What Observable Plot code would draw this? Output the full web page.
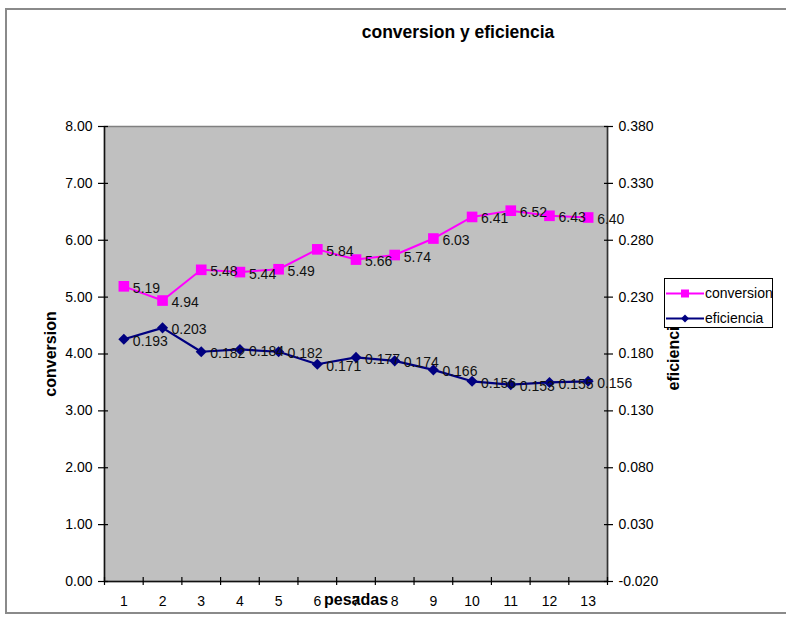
<!DOCTYPE html>
<html>
<head>
<meta charset="utf-8">
<script src="https://cdn.jsdelivr.net/npm/d3@7"></script>
<script src="https://cdn.jsdelivr.net/npm/@observablehq/plot@0.6"></script>
<style>
  html, body { margin: 0; padding: 0; background: #fff; overflow: hidden; }
  #wrap { position: relative; width: 786px; height: 618px; font-family: "Liberation Sans", Arial, sans-serif; }
  #border { position: absolute; left: 5px; top: 8px; width: 820px; height: 606px; border: 2px solid #8a8a8a; box-sizing: border-box; }
  #title { position: absolute; left: 0; width: 916px; top: 22px; text-align: center; font-weight: bold; font-size: 17.5px; color: #000; }
  #chart { position: absolute; left: 0; top: 0; }
  #legend { position: absolute; left: 664px; top: 278px; width: 109px; height: 50px; box-sizing: border-box; border: 1px solid #000; background: #fff; font-size: 14px; }
  .item { position: absolute; left: 1px; height: 18px; display: flex; align-items: center; }
  .item svg { display: block; }
  .item span { margin-left: 1px; }
</style>
</head>
<body>
<div id="wrap">
  <div id="border"></div>
  <div id="chart"></div>
  <div id="title">conversion y eficiencia</div>
  <div id="legend"></div>
</div>
<script>
// ---- data ----
const pesadas = [1, 2, 3, 4, 5, 6, 7, 8, 9, 10, 11, 12, 13];
const conversion = [5.19, 4.94, 5.48, 5.44, 5.49, 5.84, 5.66, 5.74, 6.03, 6.41, 6.52, 6.43, 6.40];
const eficiencia = [0.193, 0.203, 0.182, 0.184, 0.182, 0.171, 0.177, 0.174, 0.166, 0.156, 0.153, 0.155, 0.156];
const convTicks = [0, 1, 2, 3, 4, 5, 6, 7, 8];
const effTicks = [-0.02, 0.03, 0.08, 0.13, 0.18, 0.23, 0.28, 0.33, 0.38];
const seriesNames = ["conversion", "eficiencia"];
const colors = ["#ff00ff", "#000080"];

// secondary axis domain [-0.02, 0.38] mapped onto primary [0, 8]
const effMin = -0.02, effMax = 0.38, convMin = 0, convMax = 8;
const effToConv = e => convMin + (e - effMin) / (effMax - effMin) * (convMax - convMin);
const convToEff = c => effMin + (c - convMin) / (convMax - convMin) * (effMax - effMin);

const rows = pesadas.map((k, i) => ({k, conv: conversion[i], eff: eficiencia[i], effY: effToConv(eficiencia[i])}));
const edges = [...pesadas.map(k => k - 0.5), pesadas[pesadas.length - 1] + 0.5];

const plot = Plot.plot({
  width: 786,
  height: 618,
  marginLeft: 104,
  marginRight: 179,
  marginTop: 126,
  marginBottom: 37,
  style: {fontFamily: "'Liberation Sans', Arial, sans-serif", fontSize: "14px", background: "transparent", color: "#000"},
  x: {type: "linear", domain: [0.5, 13.5], axis: null},
  y: {domain: [convMin, convMax], axis: null},
  marks: [
    Plot.frame({fill: "#c0c0c0", stroke: "#808080", strokeWidth: 1.5}),
    Plot.ruleX([0.5], {stroke: "#111", strokeWidth: 1.5}),
    Plot.ruleX([13.5], {stroke: "#333", strokeWidth: 1.5}),
    Plot.ruleY([0], {stroke: "#111", strokeWidth: 1.5}),
    // left axis
    Plot.axisY({ticks: convTicks, tickSize: 10, dx: 4, tickFormat: () => "", label: null, strokeWidth: 1.2}),
    Plot.axisY({ticks: convTicks, tickSize: 0, tickPadding: 12, tickFormat: d => d.toFixed(2), label: null, fill: "#000"}),
    // right axis
    Plot.axisY({anchor: "right", ticks: effTicks.map(effToConv), tickSize: 9, dx: -4, tickFormat: () => "", label: null, strokeWidth: 1.2}),
    Plot.axisY({anchor: "right", ticks: effTicks.map(effToConv), tickSize: 0, tickPadding: 11, tickFormat: d => convToEff(d).toFixed(3), label: null, fill: "#000"}),
    // x axis
    Plot.axisX({ticks: edges, tickSize: 8, dy: -4, tickFormat: () => "", label: null, strokeWidth: 1.2}),
    Plot.axisX({ticks: pesadas, tickSize: 0, tickPadding: 15, tickFormat: d => String(d), label: null, fill: "#000"}),
    // axis titles
    Plot.text(["conversion"], {frameAnchor: "left", textAnchor: "middle", rotate: -90, dx: -54, fontWeight: "bold", fontSize: 16, fill: "#000"}),
    Plot.text(["eficiencia"], {frameAnchor: "right", textAnchor: "middle", rotate: -90, dx: 66, fontWeight: "bold", fontSize: 16, fill: "#000"}),
    Plot.text(["pesadas"], {frameAnchor: "bottom", dy: 23, fontWeight: "bold", fontSize: 16, fill: "#000"}),
    // series
    Plot.line(rows, {x: "k", y: "conv", stroke: colors[0], strokeWidth: 2}),
    Plot.dot(rows, {x: "k", y: "conv", symbol: "square", r: 6, fill: colors[0], stroke: "none"}),
    Plot.line(rows, {x: "k", y: "effY", stroke: colors[1], strokeWidth: 2.2}),
    Plot.dot(rows, {x: "k", y: "effY", symbol: "diamond2", r: 5, fill: colors[1], stroke: "none"}),
    Plot.text(rows, {x: "k", y: "conv", text: d => d.conv.toFixed(2), dx: 9, dy: 2, textAnchor: "start", fill: "#111"}),
    Plot.text(rows, {x: "k", y: "effY", text: d => d.eff.toFixed(3), dx: 9, dy: 2, textAnchor: "start", fill: "#111"})
  ]
});
document.getElementById("chart").appendChild(plot);

// legend
const legend = document.getElementById("legend");
seriesNames.forEach((name, i) => {
  const item = document.createElement("div");
  item.className = "item";
  item.style.top = (i === 0 ? 5 : 30) + "px";
  const sym = i === 0
    ? `<rect x="15" y="4.5" width="8" height="8" fill="${colors[0]}"/>`
    : `<path d="M19,4.5 L23,8.5 L19,12.5 L15,8.5 Z" fill="${colors[1]}"/>`;
  item.innerHTML = `<svg width="38" height="17"><line x1="0" x2="38" y1="8.5" y2="8.5" stroke="${colors[i]}" stroke-width="2"/>${sym}</svg><span>${name}</span>`;
  legend.appendChild(item);
});
</script>
</body>
</html>
